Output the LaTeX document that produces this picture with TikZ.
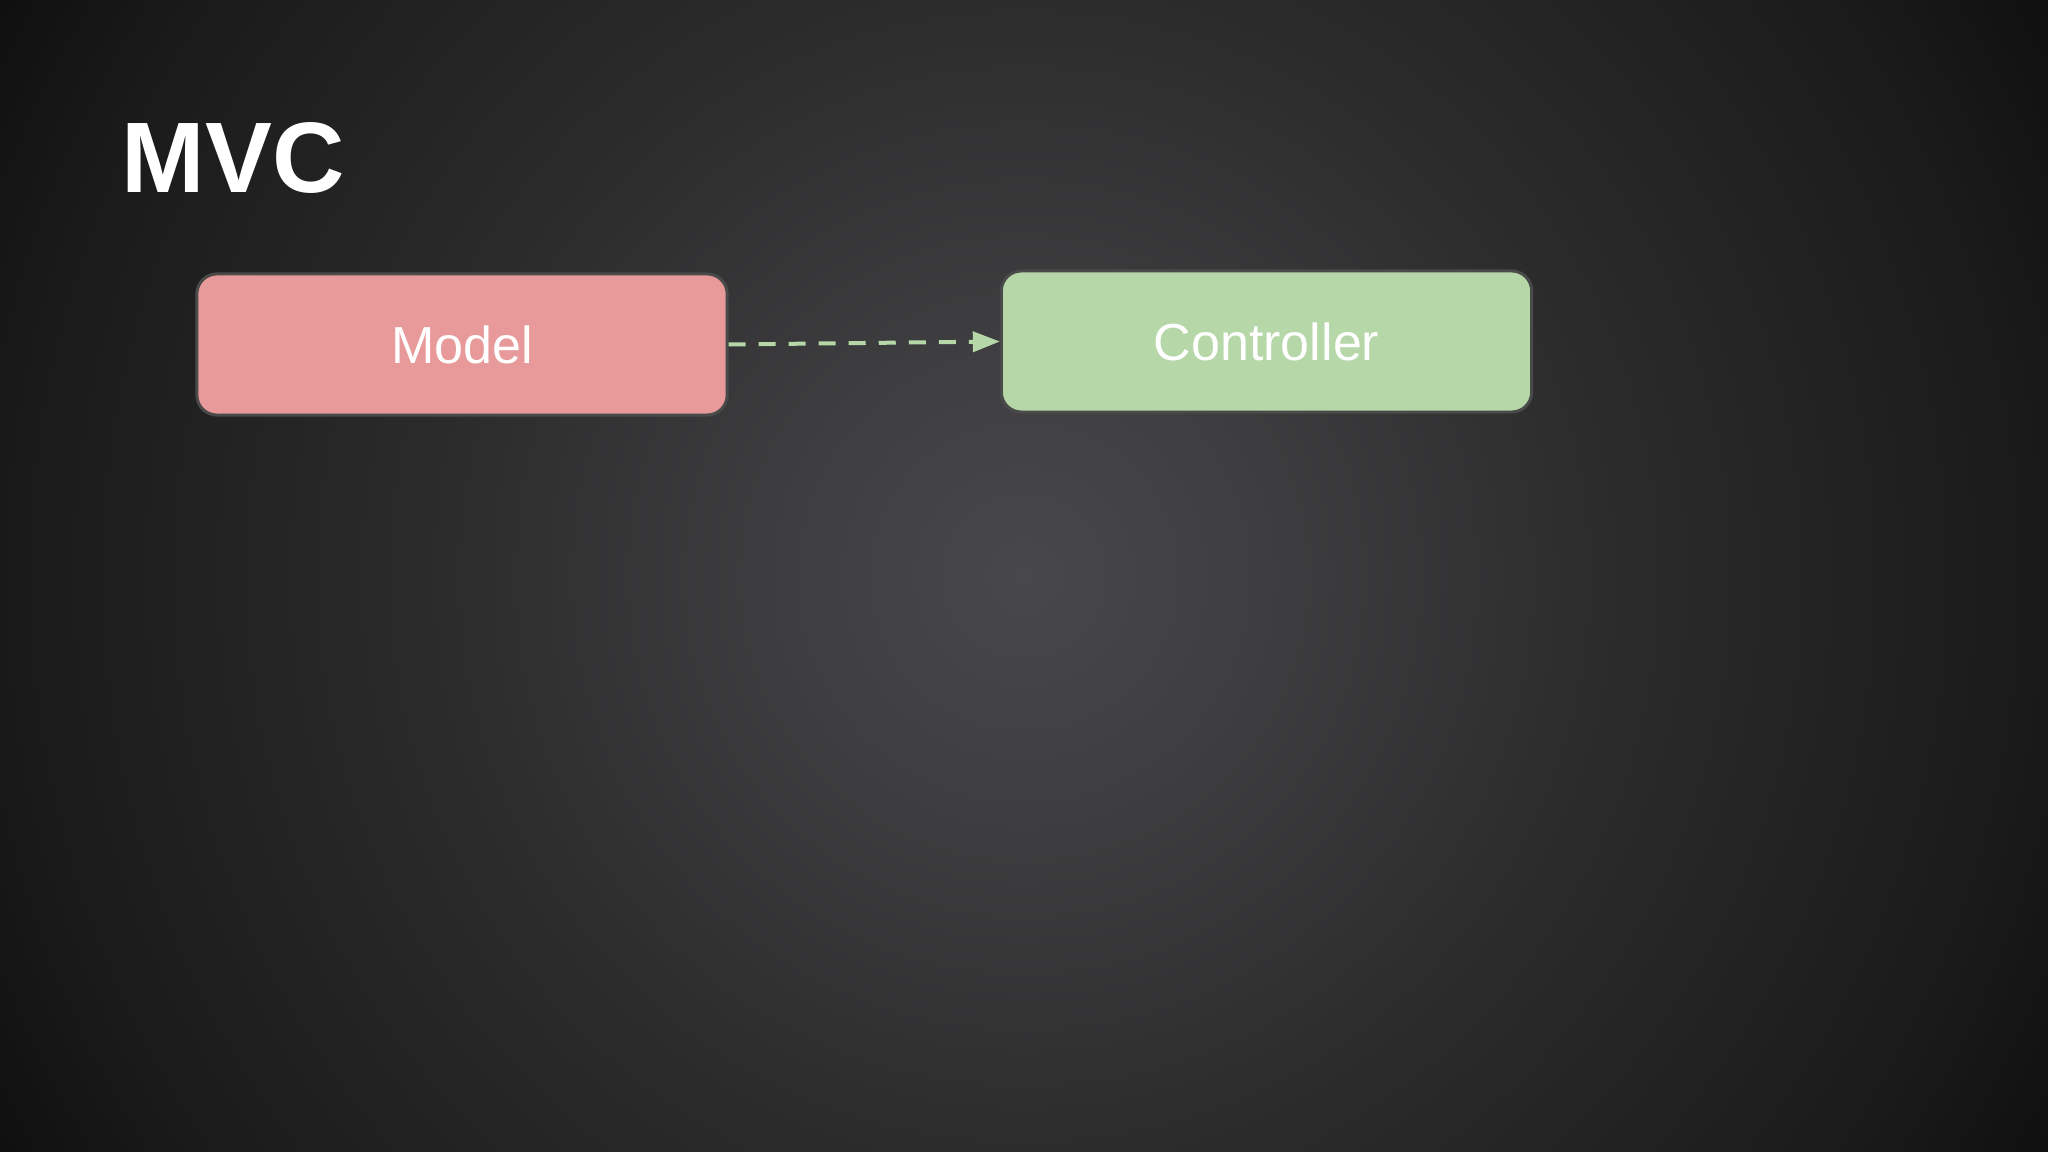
\documentclass[tikz,border=0pt]{standalone}
\usepackage{fontspec}
\setmainfont{Liberation Sans}
\usetikzlibrary{arrows.meta}
\definecolor{bgA}{HTML}{48474A}
\definecolor{bgB}{HTML}{3E3E40}
\definecolor{bgC}{HTML}{2C2C2D}
\definecolor{bgD}{HTML}{1A1A1A}
\definecolor{bgE}{HTML}{0E0E0E}
\definecolor{boxline}{HTML}{4A4A4A}
\definecolor{modelfill}{HTML}{E89999}
\definecolor{ctrlfill}{HTML}{B6D7A8}
\pgfdeclareradialshading{bgvignette}{\pgfpointorigin}{color(0bp)=(bgA); color(5bp)=(bgB); color(12bp)=(bgC); color(21bp)=(bgD); color(25bp)=(bgE); color(50bp)=(bgE)}
\tikzset{
  box/.style={rectangle, rounded corners=0.2cm, draw=boxline, line width=0.03cm,
    minimum width=5.3cm, minimum height=1.41cm, inner sep=0, text=white,
    font=\fontsize{14.8}{18}\selectfont},
  flow/.style={draw=ctrlfill, line width=0.04cm, dash pattern=on 0.17cm off 0.13cm,
    -{Triangle[length=0.27cm,width=0.2cm]}},
  titletext/.style={anchor=base west, inner sep=0, text=white,
    font=\bfseries\fontsize{28.5}{34}\selectfont}
}
\begin{document}
\begin{tikzpicture}[x=0.01cm,y=-0.01cm]
\useasboundingbox (0,0) rectangle (2048,1152);
\begin{scope}
\clip (0,0) rectangle (2048,1152);
\shade[shading=bgvignette] (-176,-624) rectangle (2224,1776);
\end{scope}
\node[titletext] (title) at (121,193) {MVC};
\node[box, fill=modelfill] (model) at (462,344.5) {Model};
\node[box, fill=ctrlfill] (ctrl) at (1266.5,341.5) {Controller};
\draw[flow] (model.east) -- (ctrl.west);
\end{tikzpicture}
\end{document}
